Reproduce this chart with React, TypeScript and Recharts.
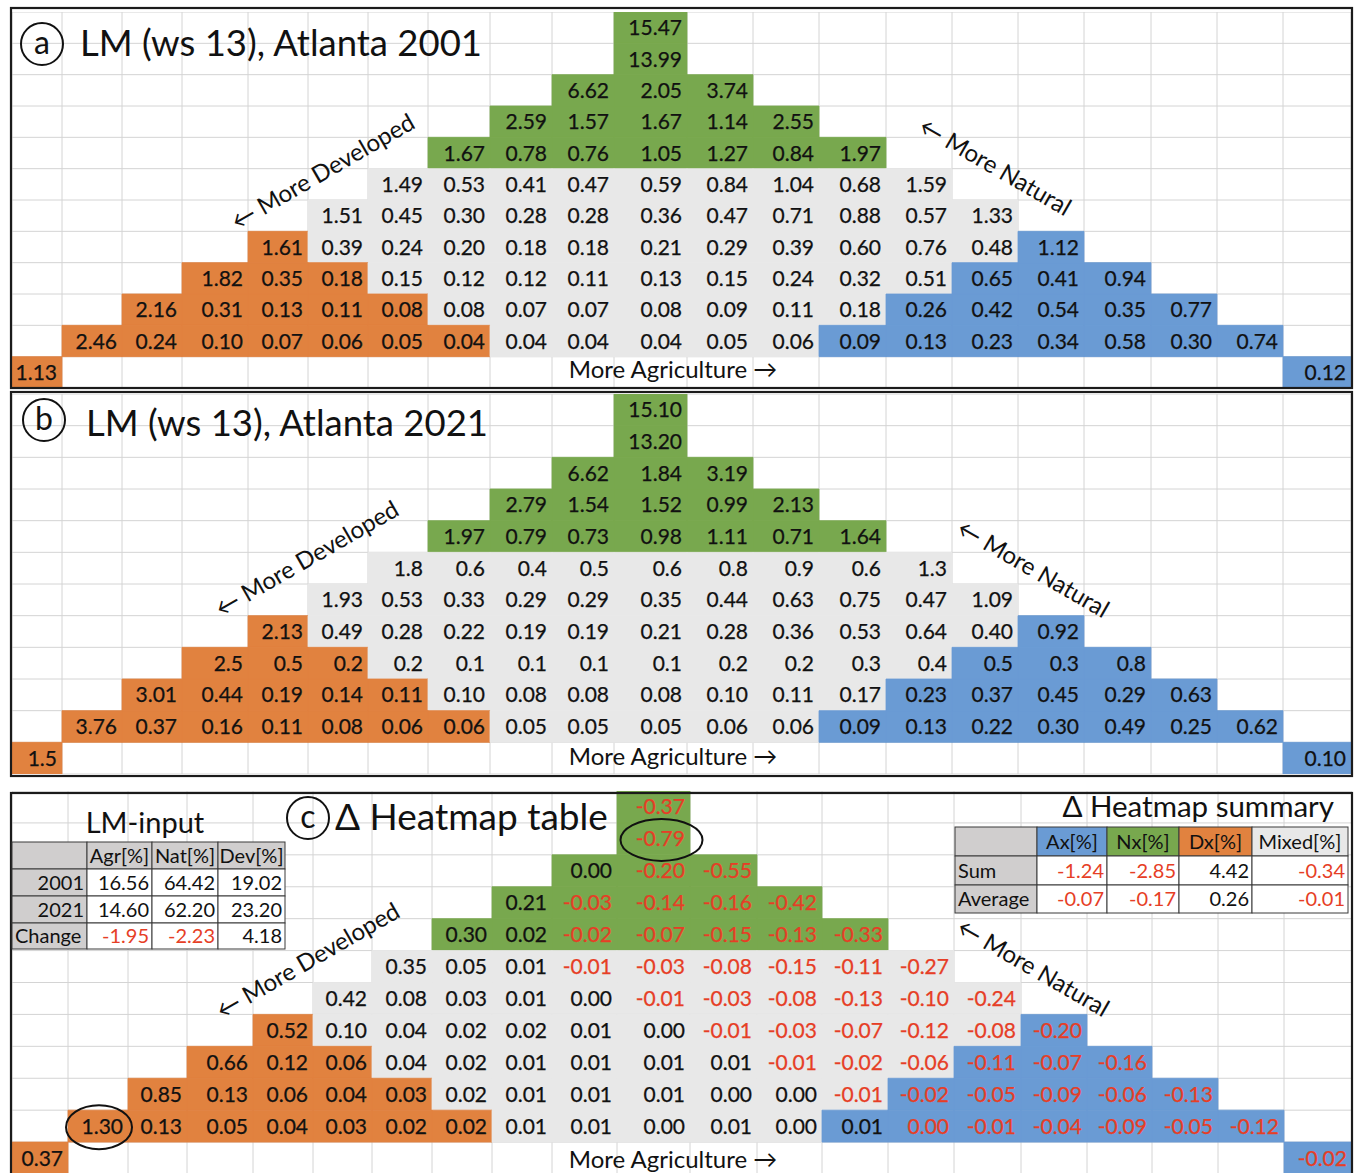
import React from 'react';
import {
  ScatterChart,
  Scatter,
  XAxis,
  YAxis,
  CartesianGrid,
  ReferenceArea,
  ReferenceDot,
} from 'recharts';

// spreadsheet column widths (px) for the triangle grids
const COLS_AB = [50, 60, 60, 66, 60, 60, 60, 62, 62, 62, 73, 66, 66, 67, 66, 66, 66, 67, 66, 66, 68];
const COLS_C = [56, 60, 59, 66, 60, 59, 60, 60, 60, 65, 73, 67, 65, 66, 66, 67, 66, 65, 66, 66, 68];
const ROW_COUNT = 12;

// triangle rows, top to bottom (row 11 holds only the two corner cells)
const ATL_2001 = [
  ['15.47'],
  ['13.99'],
  ['6.62', '2.05', '3.74'],
  ['2.59', '1.57', '1.67', '1.14', '2.55'],
  ['1.67', '0.78', '0.76', '1.05', '1.27', '0.84', '1.97'],
  ['1.49', '0.53', '0.41', '0.47', '0.59', '0.84', '1.04', '0.68', '1.59'],
  ['1.51', '0.45', '0.30', '0.28', '0.28', '0.36', '0.47', '0.71', '0.88', '0.57', '1.33'],
  ['1.61', '0.39', '0.24', '0.20', '0.18', '0.18', '0.21', '0.29', '0.39', '0.60', '0.76', '0.48', '1.12'],
  ['1.82', '0.35', '0.18', '0.15', '0.12', '0.12', '0.11', '0.13', '0.15', '0.24', '0.32', '0.51', '0.65', '0.41', '0.94'],
  ['2.16', '0.31', '0.13', '0.11', '0.08', '0.08', '0.07', '0.07', '0.08', '0.09', '0.11', '0.18', '0.26', '0.42', '0.54', '0.35', '0.77'],
  ['2.46', '0.24', '0.10', '0.07', '0.06', '0.05', '0.04', '0.04', '0.04', '0.04', '0.05', '0.06', '0.09', '0.13', '0.23', '0.34', '0.58', '0.30', '0.74'],
];
const ATL_2001_ENDS = ['1.13', '0.12'];

const ATL_2021 = [
  ['15.10'],
  ['13.20'],
  ['6.62', '1.84', '3.19'],
  ['2.79', '1.54', '1.52', '0.99', '2.13'],
  ['1.97', '0.79', '0.73', '0.98', '1.11', '0.71', '1.64'],
  ['1.8', '0.6', '0.4', '0.5', '0.6', '0.8', '0.9', '0.6', '1.3'],
  ['1.93', '0.53', '0.33', '0.29', '0.29', '0.35', '0.44', '0.63', '0.75', '0.47', '1.09'],
  ['2.13', '0.49', '0.28', '0.22', '0.19', '0.19', '0.21', '0.28', '0.36', '0.53', '0.64', '0.40', '0.92'],
  ['2.5', '0.5', '0.2', '0.2', '0.1', '0.1', '0.1', '0.1', '0.2', '0.2', '0.3', '0.4', '0.5', '0.3', '0.8'],
  ['3.01', '0.44', '0.19', '0.14', '0.11', '0.10', '0.08', '0.08', '0.08', '0.10', '0.11', '0.17', '0.23', '0.37', '0.45', '0.29', '0.63'],
  ['3.76', '0.37', '0.16', '0.11', '0.08', '0.06', '0.06', '0.05', '0.05', '0.05', '0.06', '0.06', '0.09', '0.13', '0.22', '0.30', '0.49', '0.25', '0.62'],
];
const ATL_2021_ENDS = ['1.5', '0.10'];

const DELTA = [
  ['-0.37'],
  ['-0.79'],
  ['0.00', '-0.20', '-0.55'],
  ['0.21', '-0.03', '-0.14', '-0.16', '-0.42'],
  ['0.30', '0.02', '-0.02', '-0.07', '-0.15', '-0.13', '-0.33'],
  ['0.35', '0.05', '0.01', '-0.01', '-0.03', '-0.08', '-0.15', '-0.11', '-0.27'],
  ['0.42', '0.08', '0.03', '0.01', '0.00', '-0.01', '-0.03', '-0.08', '-0.13', '-0.10', '-0.24'],
  ['0.52', '0.10', '0.04', '0.02', '0.02', '0.01', '0.00', '-0.01', '-0.03', '-0.07', '-0.12', '-0.08', '-0.20'],
  ['0.66', '0.12', '0.06', '0.04', '0.02', '0.01', '0.01', '0.01', '0.01', '-0.01', '-0.02', '-0.06', '-0.11', '-0.07', '-0.16'],
  ['0.85', '0.13', '0.06', '0.04', '0.03', '0.02', '0.01', '0.01', '0.01', '0.00', '0.00', '-0.01', '-0.02', '-0.05', '-0.09', '-0.06', '-0.13'],
  ['1.30', '0.13', '0.05', '0.04', '0.03', '0.02', '0.02', '0.01', '0.01', '0.00', '0.01', '0.00', '0.01', '-0.00', '-0.01', '-0.04', '-0.09', '-0.05', '-0.12'],
];
const DELTA_ENDS = ['0.37', '-0.02'];
// highlighted cells in the delta table: [row, col]
const DELTA_CIRCLED = [
  [1, 10],
  [10, 1],
];

const INPUT_HEAD = ['', 'Agr[%]', 'Nat[%]', 'Dev[%]'];
const INPUT_ROWS = [
  ['2001', '16.56', '64.42', '19.02'],
  ['2021', '14.60', '62.20', '23.20'],
  ['Change', '-1.95', '-2.23', '4.18'],
];
const SUMMARY_HEAD = ['', 'Ax[%]', 'Nx[%]', 'Dx[%]', 'Mixed[%]'];
const SUMMARY_ROWS = [
  ['Sum', '-1.24', '-2.85', '4.42', '-0.34'],
  ['Average', '-0.07', '-0.17', '0.26', '-0.01'],
];

const FONT = "Lato, 'DejaVu Sans', sans-serif";
const FILL = { dev: '#E1823F', nat: '#78A84E', agr: '#6A9BD4', mix: '#E8E8E8' };
const HEAD_GRAY = '#D0CECE';
const INK = '#111111';
const RED = '#E63E26';
const GRID = '#D4D4D4';

type Kind = keyof typeof FILL;
type Cell = { row: number; col: number; text: string; kind: Kind };

function kindOf(row: number, k: number, len: number): Kind {
  if (row <= 4) return 'nat';
  if (row < 7) return 'mix';
  const edge = 2 * (row - 7) + 1;
  if (k < edge) return 'dev';
  if (k >= len - edge) return 'agr';
  return 'mix';
}

function buildCells(rows: string[][], ends: string[]): Cell[] {
  const cells: Cell[] = [];
  rows.forEach((vals, row) => {
    const start = 10 - (vals.length - 1) / 2;
    vals.forEach((text, k) => {
      cells.push({ row, col: start + k, text, kind: kindOf(row, k, vals.length) });
    });
  });
  cells.push({ row: 11, col: 0, text: ends[0], kind: 'dev' });
  cells.push({ row: 11, col: 20, text: ends[1], kind: 'agr' });
  return cells;
}

const isNeg = (s: string) => s.startsWith('-');
const shown = (s: string) => (s === '-0.00' ? '0.00' : s);

function CellText(props: any) {
  const vb = props.viewBox || props;
  const { x, y, width, height } = vb;
  return (
    <text
      x={x + width - 5}
      y={y + height / 2 + 7.5}
      textAnchor="end"
      fontSize={21}
      fontFamily={FONT}
      fill={isNeg(props.text) ? RED : INK}
      stroke={isNeg(props.text) ? RED : INK}
      strokeWidth={0.25}
    >
      {shown(props.text)}
    </text>
  );
}

function Panel({
  cells,
  widths,
  top,
  height,
  circled = [],
}: {
  cells: Cell[];
  widths: number[];
  top: number;
  height: number;
  circled?: number[][];
}) {
  const edges = widths.reduce<number[]>((acc, w) => [...acc, acc[acc.length - 1] + w], [0]);
  const total = edges[edges.length - 1];
  const mid = (c: number) => (edges[c] + edges[c + 1]) / 2;
  const points = cells.map((c) => ({ x: mid(c.col), y: c.row + 0.5 }));
  const rowTicks = Array.from({ length: ROW_COUNT + 1 }, (_, i) => i);

  return (
    <div style={{ position: 'absolute', left: 12, top }}>
      <ScatterChart width={total} height={height} margin={{ top: 0, right: 0, bottom: 0, left: 0 }}>
        <CartesianGrid stroke={GRID} strokeWidth={1} />
        <XAxis type="number" dataKey="x" domain={[0, total]} ticks={edges} interval={0} hide />
        <YAxis type="number" dataKey="y" domain={[0, ROW_COUNT]} ticks={rowTicks} interval={0} reversed hide />
        {cells.map((c) => (
          <ReferenceArea
            key={`${c.row}-${c.col}`}
            x1={edges[c.col]}
            x2={edges[c.col + 1]}
            y1={c.row}
            y2={c.row + 1}
            fill={FILL[c.kind]}
            fillOpacity={1}
            stroke={FILL[c.kind]}
            strokeWidth={0.8}
            label={<CellText text={c.text} />}
          />
        ))}
        <Scatter data={points} isAnimationActive={false} shape={() => <g />} />
        {circled.map(([row, col], i) => (
          <ReferenceDot
            key={`ring-${i}`}
            x={mid(col)}
            y={row + 0.5}
            shape={(p: any) => (
              <ellipse
                cx={p.cx + (col === 10 ? 8 : 1)}
                cy={p.cy + 1}
                rx={col === 10 ? 41 : 33}
                ry={col === 10 ? 21 : 22}
                fill="none"
                stroke={INK}
                strokeWidth={2}
              />
            )}
          />
        ))}
      </ScatterChart>
    </div>
  );
}

function SheetTable({
  x,
  y,
  colW,
  rowH,
  head,
  headFill,
  rows,
}: {
  x: number;
  y: number;
  colW: number[];
  rowH: number[];
  head: string[];
  headFill: string[];
  rows: string[][];
}) {
  const xs = colW.reduce<number[]>((acc, w) => [...acc, acc[acc.length - 1] + w], [x]);
  const ys = rowH.reduce<number[]>((acc, h) => [...acc, acc[acc.length - 1] + h], [y]);
  const all = [head, ...rows];
  return (
    <g fontFamily={FONT} fontSize={20}>
      {all.map((r, ri) =>
        r.map((t, ci) => {
          const x0 = xs[ci];
          const w = colW[ci];
          const y0 = ys[ri];
          const h = rowH[ri];
          const fill = ri === 0 ? headFill[ci] : ci === 0 ? HEAD_GRAY : '#ffffff';
          const numeric = /^-?\d/.test(t);
          const anchor = ri === 0 ? 'middle' : numeric ? 'end' : 'start';
          const tx = ri === 0 ? x0 + w / 2 : numeric ? x0 + w - 3 : x0 + 3;
          return (
            <g key={`${ri}-${ci}`}>
              <rect x={x0} y={y0} width={w} height={h} fill={fill} stroke="#3a3a3a" strokeWidth={1} />
              <text x={tx} y={y0 + h / 2 + 7} textAnchor={anchor} fill={isNeg(t) ? RED : INK}>
                {t}
              </text>
            </g>
          );
        })
      )}
    </g>
  );
}

function Tag({ cx, cy, letter }: { cx: number; cy: number; letter: string }) {
  return (
    <g>
      <circle cx={cx} cy={cy} r={21} fill="none" stroke={INK} strokeWidth={2} />
      <text x={cx} y={cy + 10} textAnchor="middle" fontSize={32} fontFamily={FONT} fill={INK}>
        {letter}
      </text>
    </g>
  );
}

function Direction({ x, y, angle, text }: { x: number; y: number; angle: number; text: string }) {
  return (
    <text
      transform={`translate(${x},${y}) rotate(${angle})`}
      textAnchor="middle"
      dy={8}
      fontSize={24}
      fontFamily={FONT}
      fill={INK}
    >
      {text}
    </text>
  );
}

export default function App() {
  const cellsA = buildCells(ATL_2001, ATL_2001_ENDS);
  const cellsB = buildCells(ATL_2021, ATL_2021_ENDS);
  const cellsC = buildCells(DELTA, DELTA_ENDS);

  return (
    <div style={{ position: 'relative', width: 1361, height: 1173, overflow: 'hidden', background: '#fff' }}>
      <style>{'body{margin:0}'}</style>
      <Panel cells={cellsA} widths={COLS_AB} top={12} height={376} />
      <Panel cells={cellsB} widths={COLS_AB} top={394} height={380} />
      <Panel cells={cellsC} widths={COLS_C} top={791} height={383} circled={DELTA_CIRCLED} />

      <svg
        width={1361}
        height={1173}
        style={{ position: 'absolute', left: 0, top: 0, pointerEvents: 'none' }}
      >
        <rect x={11} y={8} width={1341} height={380} fill="none" stroke="#1b1b1b" strokeWidth={2.2} />
        <rect x={11} y={392} width={1341} height={384} fill="none" stroke="#1b1b1b" strokeWidth={2.2} />
        <rect x={11} y={793} width={1341} height={420} fill="none" stroke="#1b1b1b" strokeWidth={2.2} />

        <Tag cx={42} cy={44} letter="a" />
        <text x={80} y={56} fontSize={36.5} fontFamily={FONT} fill={INK}>
          LM (ws 13), Atlanta 2001
        </text>
        <Tag cx={44} cy={420} letter="b" />
        <text x={86} y={436} fontSize={36.5} fontFamily={FONT} fill={INK}>
          LM (ws 13), Atlanta 2021
        </text>
        <Tag cx={308} cy={818} letter="c" />
        <text x={335} y={830} fontSize={37} fontFamily={FONT} fill={INK}>
          Δ Heatmap table
        </text>

        <Direction x={323} y={172} angle={-30} text="← More Developed" />
        <Direction x={995} y={167} angle={30} text="← More Natural" />
        <Direction x={673} y={370} angle={0} text="More Agriculture →" />
        <Direction x={307} y={559} angle={-30} text="← More Developed" />
        <Direction x={1033} y={569} angle={30} text="← More Natural" />
        <Direction x={673} y={757} angle={0} text="More Agriculture →" />
        <Direction x={308} y={961} angle={-30} text="← More Developed" />
        <Direction x={1033} y={968} angle={30} text="← More Natural" />
        <Direction x={673} y={1160} angle={0} text="More Agriculture →" />

        <text x={145} y={833} textAnchor="middle" fontSize={29} fontFamily={FONT} fill={INK}>
          LM-input
        </text>
        <SheetTable
          x={12}
          y={842}
          colW={[75, 65, 66, 67]}
          rowH={[27, 27, 27, 26]}
          head={INPUT_HEAD}
          headFill={[HEAD_GRAY, HEAD_GRAY, HEAD_GRAY, HEAD_GRAY]}
          rows={INPUT_ROWS}
        />

        <text x={1334} y={817} textAnchor="end" fontSize={29.5} fontFamily={FONT} fill={INK}>
          Δ Heatmap summary
        </text>
        <SheetTable
          x={955}
          y={827}
          colW={[82, 70, 72, 73, 96]}
          rowH={[29, 29, 28]}
          head={SUMMARY_HEAD}
          headFill={[HEAD_GRAY, FILL.agr, FILL.nat, FILL.dev, FILL.mix]}
          rows={SUMMARY_ROWS}
        />
      </svg>
    </div>
  );
}
